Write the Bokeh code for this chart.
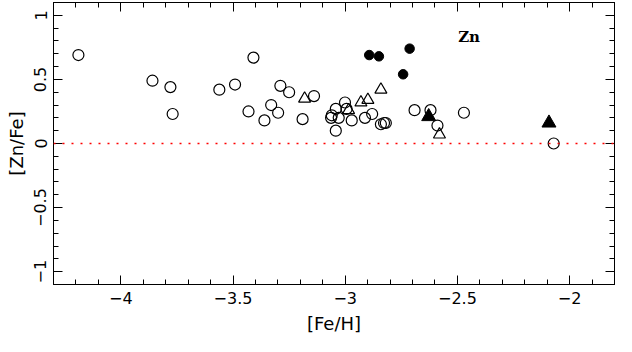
import numpy as np
from bokeh.plotting import figure
from bokeh.models import LinearAxis, FixedTicker, Span
from bokeh.core.properties import value
from bokeh.embed import file_html
from bokeh.resources import INLINE

# ---- data ----
open_circle_feh = [-4.189, -3.859, -3.779, -3.769, -3.561, -3.491, -3.409, -3.289, -3.250,
                   -3.139, -3.431, -3.330, -3.299, -3.360, -3.190, -3.060, -3.063, -3.042,
                   -3.029, -3.001, -2.994, -2.971, -3.042, -2.912, -2.880, -2.841, -2.827,
                   -2.819, -2.691, -2.620, -2.589, -2.471, -2.071]
open_circle_znfe = [0.69, 0.49, 0.44, 0.23, 0.42, 0.46, 0.67, 0.45, 0.40,
                    0.37, 0.25, 0.30, 0.24, 0.18, 0.19, 0.22, 0.20, 0.27,
                    0.20, 0.32, 0.27, 0.18, 0.10, 0.20, 0.23, 0.15, 0.16,
                    0.16, 0.26, 0.26, 0.14, 0.24, 0.00]
open_tri_feh = [-3.181, -2.985, -2.930, -2.899, -2.841, -2.580]
open_tri_znfe = [0.35, 0.26, 0.32, 0.34, 0.42, 0.07]
filled_circle_feh = [-2.893, -2.850, -2.713, -2.742]
filled_circle_znfe = [0.69, 0.68, 0.74, 0.54]
filled_tri_feh = [-2.628, -2.092]
filled_tri_znfe = [0.21, 0.16]

x_major = [-4.0, -3.5, -3.0, -2.5, -2.0]
x_labels = ["\u22124", "\u22123.5", "\u22123", "\u22122.5", "\u22122"]
y_major = [-1.0, -0.5, 0.0, 0.5, 1.0]
y_labels = ["\u22121", "\u22120.5", "0", "0.5", "1"]
element_label = "Zn"
element_pos = (-2.448, 0.83)

FONT = "DejaVu Sans"

p = figure(width=616, height=336, x_range=(-4.3, -1.8), y_range=(-1.1, 1.1),
           output_backend="svg", toolbar_location=None)
p.min_border_left = 53
p.min_border_right = 2
p.min_border_top = 2
p.min_border_bottom = 10
p.xgrid.visible = False
p.ygrid.visible = False
p.outline_line_color = "black"
p.outline_line_width = 1
p.background_fill_color = "white"
p.border_fill_color = "white"

x_minor = [round(v, 2) for v in np.arange(-4.3, -1.79, 0.1)]
y_minor = [round(v, 2) for v in np.arange(-1.1, 1.11, 0.1)]


def style_axis(ax, major, minor, show_labels, labels=None):
    ax.ticker = FixedTicker(ticks=major, minor_ticks=minor)
    ax.major_tick_in = 9
    ax.major_tick_out = 0
    ax.minor_tick_in = 5
    ax.minor_tick_out = 0
    ax.axis_line_color = "black"
    ax.major_tick_line_color = "black"
    ax.minor_tick_line_color = "black"
    ax.major_tick_line_width = 1
    ax.minor_tick_line_width = 1
    if show_labels:
        ax.major_label_overrides = {float(k): v for k, v in zip(major, labels)}
        ax.major_label_text_font = FONT
        ax.major_label_text_font_size = "16px"
        ax.major_label_text_color = "black"
    else:
        ax.major_label_text_font_size = "0px"
        ax.major_label_text_color = None
        ax.major_label_standoff = 0


xb = p.xaxis[0]
style_axis(xb, x_major, x_minor, True, x_labels)
xb.major_label_standoff = 7
xb.axis_label = "[Fe/H]"
xb.axis_label_text_font = FONT
xb.axis_label_text_font_size = "18px"
xb.axis_label_text_font_style = "normal"
xb.axis_label_text_color = "black"
xb.axis_label_standoff = 6

yl = p.yaxis[0]
style_axis(yl, y_major, y_minor, True, y_labels)
yl.major_label_orientation = "vertical"
yl.major_label_standoff = 7
yl.axis_label = "[Zn/Fe]"
yl.axis_label_text_font = FONT
yl.axis_label_text_font_size = "18px"
yl.axis_label_text_font_style = "normal"
yl.axis_label_text_color = "black"
yl.axis_label_standoff = 5

xt = LinearAxis()
style_axis(xt, x_major, x_minor, False)
p.add_layout(xt, "above")
yr = LinearAxis()
style_axis(yr, y_major, y_minor, False)
p.add_layout(yr, "right")

p.add_layout(Span(location=0, dimension="width", line_color="red",
                  line_dash="2 7", line_width=1.5))

p.scatter(open_circle_feh, open_circle_znfe, marker="circle", size=11,
          fill_color=None, line_color="black", line_width=1.2)
p.scatter(open_tri_feh, open_tri_znfe, marker="triangle", size=12,
          fill_color=None, line_color="black", line_width=1.2)
p.scatter(filled_circle_feh, filled_circle_znfe, marker="circle", size=9.5,
          fill_color="black", line_color="black", line_width=1)
p.scatter(filled_tri_feh, filled_tri_znfe, marker="triangle", size=14,
          fill_color="black", line_color="black", line_width=1)

p.text(x=[element_pos[0]], y=[element_pos[1]], text=[element_label],
       text_font=value("DejaVu Serif"), text_font_style="bold",
       text_font_size="15px", text_align="center", text_baseline="middle",
       text_color="black")

open("out.html", "w").write(file_html(p, INLINE))
